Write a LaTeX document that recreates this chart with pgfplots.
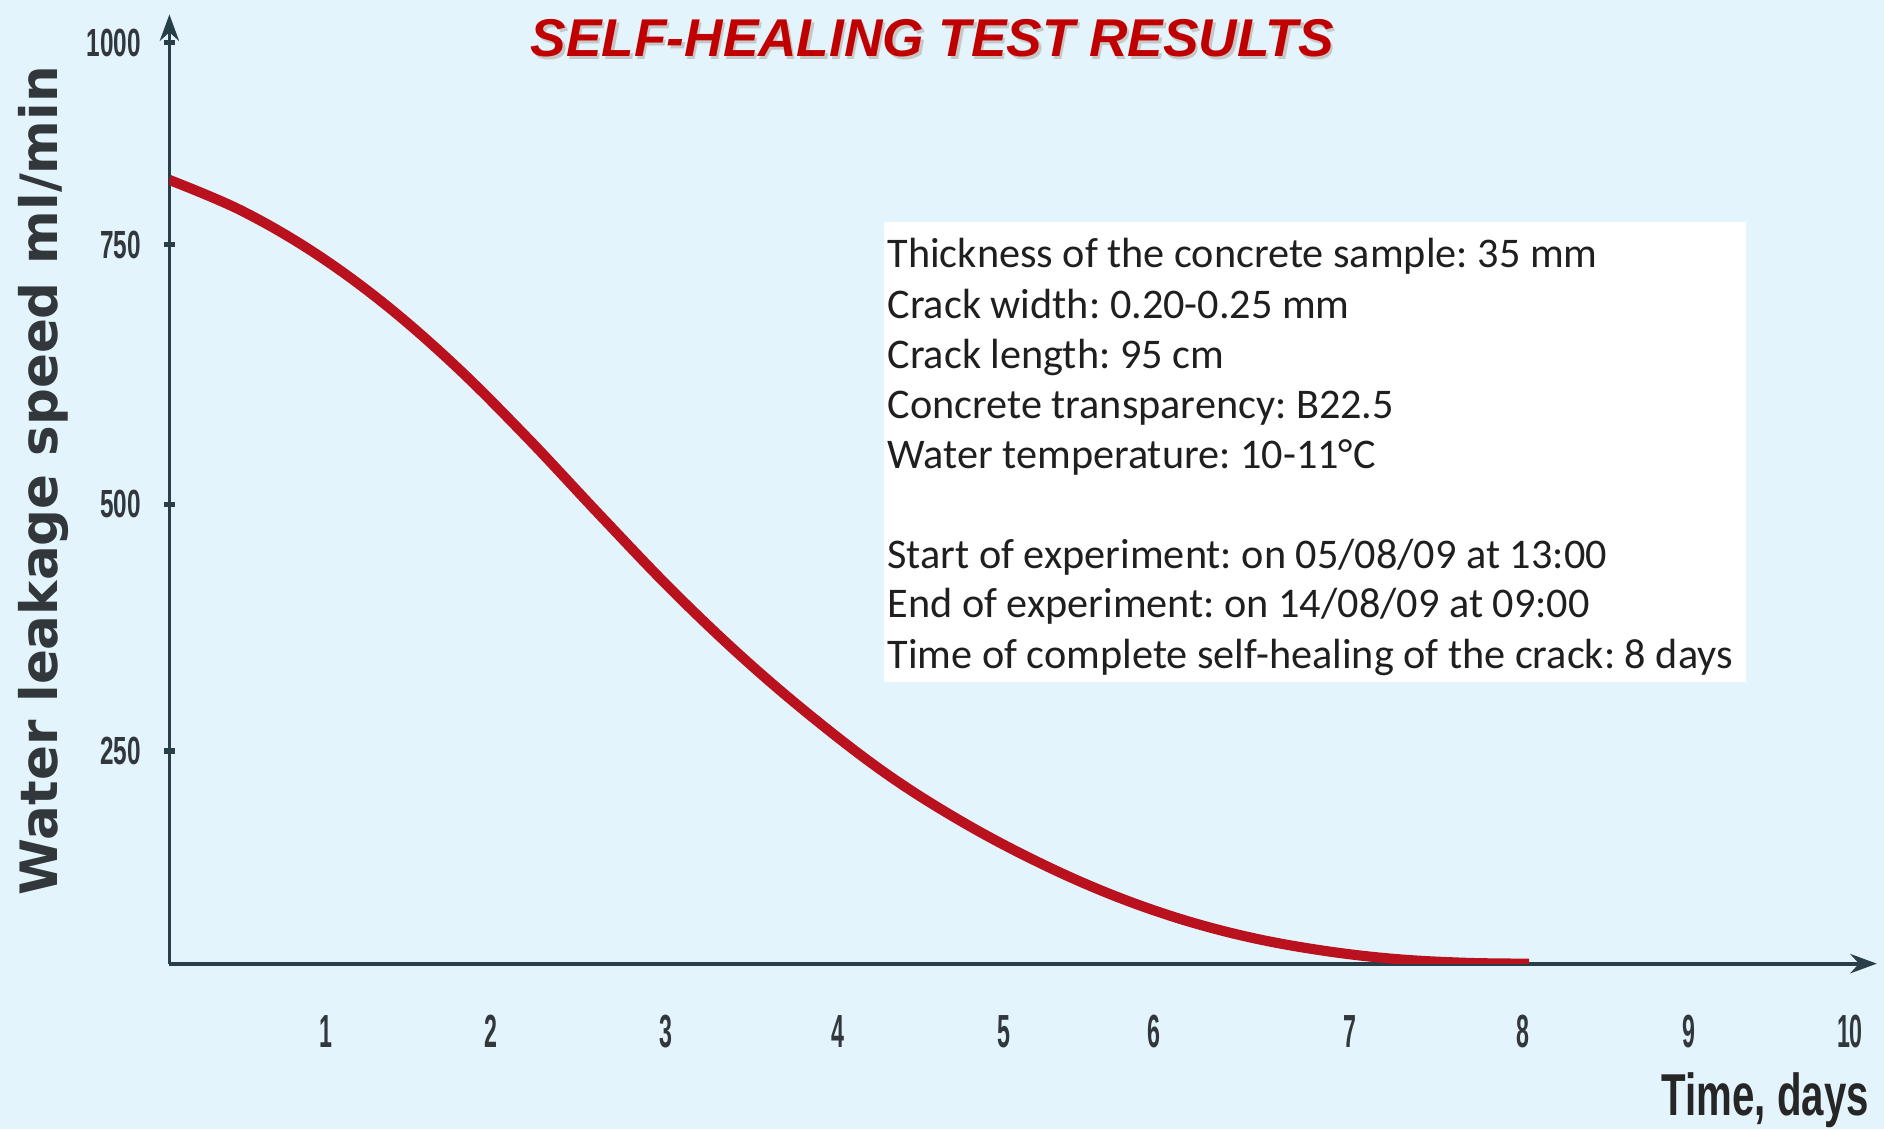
\documentclass[border=0pt]{standalone}
\usepackage{pgfplots}
\pgfplotsset{compat=1.18}
\usepackage{fontspec}
\setmainfont{Carlito}
\newfontfamily\ytickfont[FakeStretch=0.62]{Liberation Sans}
\newfontfamily\xtickfont[FakeStretch=0.5]{Liberation Sans}
\newfontfamily\xlabfont[FakeStretch=0.68]{Liberation Sans}
\newfontfamily\titlefont{Liberation Sans}
\newfontfamily\dejavu{DejaVu Sans}
\usetikzlibrary{arrows.meta}
\definecolor{bg}{RGB}{227,244,252}
\definecolor{axiscol}{RGB}{40,62,72}
\definecolor{curvecol}{RGB}{185,18,30}
\definecolor{titlered}{RGB}{192,0,0}
\definecolor{labcol}{RGB}{50,55,60}

\begin{document}
\frenchspacing
\begin{tikzpicture}
\useasboundingbox (0,0) rectangle (156.8mm,94mm);
\fill[bg] (0,0) rectangle (156.8mm,94mm);
\fill[white] (73.6mm,37.2mm) rectangle (145.3mm,75.5mm);
\begin{axis}[
  at={(14.1mm,13.8mm)}, anchor=south west,
  scale only axis, width=142.1mm, height=79mm,
  xmin=0, xmax=10.16, ymin=0, ymax=1031,
  axis lines=left,
  axis line style={axiscol, line width=0.9pt, -{Stealth[length=2.2mm,width=1.6mm]}},
  xtick={0.929,1.916,2.952,3.981,4.968,5.861,7.026,8.056,9.042,10},
  xticklabels={1,2,3,4,5,6,7,8,9,10},
  x tick style={draw=none},
  ytick={231,499,781,1000},
  yticklabels={250,500,750,1000},
  y tick style={axiscol, line width=1.2pt},
  major tick length=0.9mm, tick align=center,
  xticklabel style={font=\xtickfont\bfseries\fontsize{11}{11}\selectfont, text=labcol, yshift=-2.6mm},
  yticklabel style={font=\ytickfont\bfseries\fontsize{9.3}{9.3}\selectfont, text=labcol, xshift=-0.7mm},
]
\addplot[curvecol, line width=2.4pt, smooth, tension=0.6] coordinates {
 (0,851.2) (0.422,818.5) (0.851,773.5) (1.279,716.7) (1.708,648.2)
 (2.137,569.8) (2.566,486.3) (2.995,404.7) (3.424,330.3) (3.853,263.7)
 (4.282,204.2) (4.711,154.7) (5.140,112.9) (5.568,77.7) (5.997,49.6)
 (6.426,28.7) (6.855,14.4) (7.284,5.2) (7.713,0.9) (8.091,0)
};
\end{axis}
% title with shadow
\node[text=black!22, font=\titlefont\bfseries\itshape\fontsize{12.6}{12.6}\selectfont] at (77.8mm,90.6mm) {SELF-HEALING TEST RESULTS};
\node[text=titlered, font=\titlefont\bfseries\itshape\fontsize{12.6}{12.6}\selectfont] at (77.6mm,90.8mm) {SELF-HEALING TEST RESULTS};
% axis labels
\node[rotate=90, text=labcol, font=\dejavu\bfseries\fontsize{12.2}{12.2}\selectfont] at (3.6mm,54.0mm) {Water leakage speed ml/min};
\node[anchor=east, inner sep=0pt, text=black!85, font=\xlabfont\bfseries\fontsize{14}{14}\selectfont] at (155.6mm,2.4mm) {Time, days};
% info box text
\begin{scope}[every node/.style={anchor=base west, inner sep=0pt, text=black!88, font=\fontsize{10}{12}\selectfont}]
\node at (73.8mm,71.7mm) {Thickness of the concrete sample: 35 mm};
\node at (73.8mm,67.5mm) {Crack width: 0.20-0.25 mm};
\node at (73.8mm,63.3mm) {Crack length: 95 cm};
\node at (73.8mm,59.2mm) {Concrete transparency: B22.5};
\node at (73.8mm,55.0mm) {Water temperature: 10-11\textdegree C};
\node at (73.8mm,46.7mm) {Start of experiment: on 05/08/09 at 13:00};
\node at (73.8mm,42.6mm) {End of experiment: on 14/08/09 at 09:00};
\node at (73.8mm,38.4mm) {Time of complete self-healing of the crack: 8 days};
\end{scope}
\end{tikzpicture}
\end{document}
